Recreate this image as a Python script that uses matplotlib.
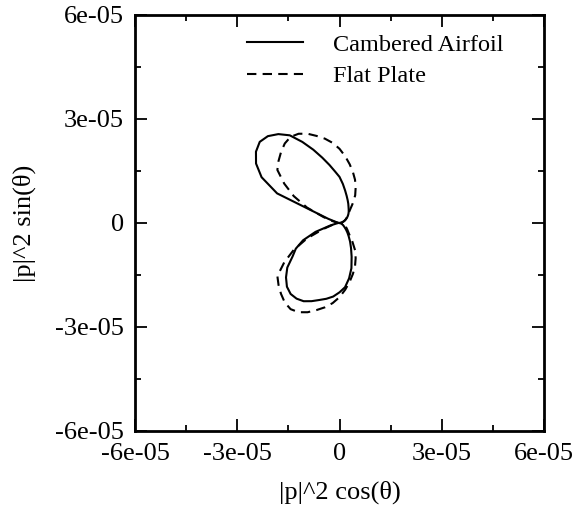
import numpy as np
import matplotlib
matplotlib.use("Agg")
import matplotlib.pyplot as plt
from matplotlib.ticker import MultipleLocator, FixedLocator, FixedFormatter

# directivity data: |p|^2 (in units of 1e-5) every 5 degrees
theta_deg = np.arange(0, 365, 5)

r_cambered = np.array([
    0.02, 0.03, 0.05, 0.08, 0.12, 0.17, 0.22, 0.27, 0.32, 0.37,   # 0-45
    0.42, 0.47, 0.53, 0.61, 0.70, 0.81, 0.95, 1.13, 1.33, 1.49,   # 50-95
    1.70, 1.95, 2.25, 2.58, 2.92, 3.13, 3.27, 3.31, 3.20, 2.99,   # 100-145
    2.64, 2.02, 0.35, 0.10, 0.05, 0.04, 0.04, 0.05, 0.10, 0.28,   # 150-195
    0.75, 1.18, 1.48, 1.68, 2.00, 2.22, 2.40, 2.50, 2.52, 2.49,   # 200-245
    2.40, 2.30, 2.22, 2.13, 2.00, 1.86, 1.62, 1.35, 1.04, 0.80,   # 250-295
    0.62, 0.47, 0.36, 0.27, 0.20, 0.15, 0.12, 0.08, 0.06, 0.04,   # 300-345
    0.03, 0.02, 0.02,                                             # 350-360
]) * 1e-5

r_flat = np.array([
    0.00, 0.02, 0.05, 0.09, 0.13, 0.17, 0.21, 0.25, 0.30, 0.36,   # 0-45
    0.46, 0.66, 0.92, 1.12, 1.33, 1.52, 1.72, 1.93, 2.14, 2.32,   # 50-95
    2.47, 2.60, 2.74, 2.84, 2.87, 2.80, 2.67, 2.53, 2.38, 1.98,   # 100-145
    1.55, 1.05, 0.50, 0.22, 0.08, 0.02, 0.00, 0.02, 0.08, 0.22,   # 150-195
    0.50, 1.05, 1.55, 1.98, 2.38, 2.53, 2.67, 2.80, 2.87, 2.84,   # 200-245
    2.74, 2.60, 2.47, 2.32, 2.14, 1.93, 1.72, 1.52, 1.33, 1.12,   # 250-295
    0.92, 0.66, 0.46, 0.36, 0.30, 0.25, 0.21, 0.17, 0.13, 0.09,   # 300-345
    0.05, 0.02, 0.00,                                             # 350-360
]) * 1e-5

series_labels = ["Cambered Airfoil", "Flat Plate"]
tick_values = [-6e-5, -3e-5, 0, 3e-5, 6e-5]
tick_labels = ["-6e-05", "-3e-05", "0", "3e-05", "6e-05"]

plt.rcParams["font.family"] = ["Liberation Serif", "DejaVu Serif"]

fig = plt.figure(figsize=(5.84, 5.08), dpi=100)
ax = fig.add_axes([0.2312, 0.1516, 0.7003, 0.8189])

th = np.deg2rad(theta_deg)
ax.plot(r_cambered * np.cos(th), r_cambered * np.sin(th), color="black",
        lw=1.5, solid_joinstyle="round", label=series_labels[0])
ax.plot(r_flat * np.cos(th), r_flat * np.sin(th), color="black",
        lw=1.5, dashes=(4.5, 3), label=series_labels[1])

ax.set_xlim(-6e-5, 6e-5)
ax.set_ylim(-6e-5, 6e-5)
for axis in (ax.xaxis, ax.yaxis):
    axis.set_major_locator(FixedLocator(tick_values))
    axis.set_major_formatter(FixedFormatter(tick_labels))
    axis.set_minor_locator(MultipleLocator(1.5e-5))

ax.tick_params(which="both", direction="in", top=True, right=True,
               labelsize=19, width=1.3)
ax.tick_params(axis="x", pad=9)
ax.tick_params(axis="y", pad=8)
ax.tick_params(which="major", length=8.5)
ax.tick_params(which="minor", length=4.5)
for sp in ax.spines.values():
    sp.set_linewidth(2)

ax.set_xlabel("|p|^2 cos(θ)", fontsize=19, labelpad=11)
ax.set_ylabel("|p|^2 sin(θ)", fontsize=19, labelpad=14)

ax.legend(loc="upper left", bbox_to_anchor=(0.274, 0.955), frameon=False,
          fontsize=17.5, handlelength=2.3, handletextpad=1.23, labelspacing=0.4,
          borderpad=0, borderaxespad=0)

fig.savefig("out.png", dpi=100)
